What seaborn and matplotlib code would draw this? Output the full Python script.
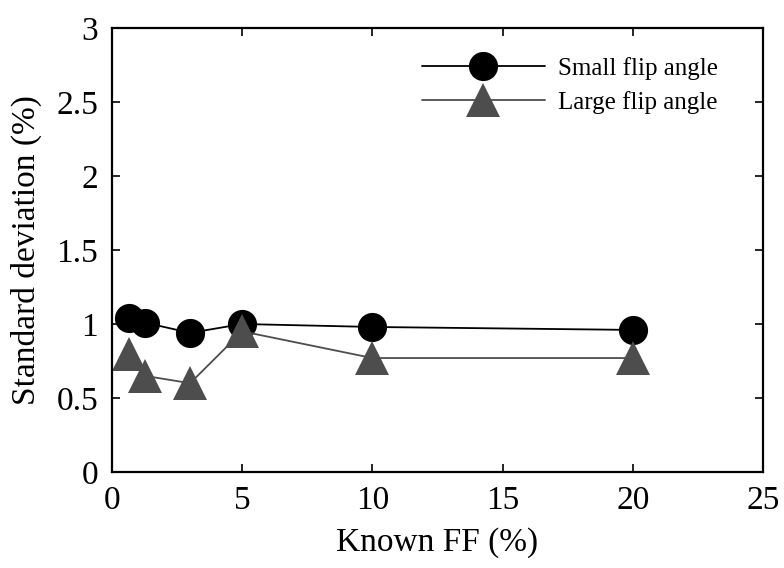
import numpy as np
import pandas as pd
import seaborn as sns
import matplotlib.pyplot as plt

known_ff = [0.65, 1.25, 3.0, 5, 10, 20]
small_flip = [1.04, 1.01, 0.94, 1.00, 0.98, 0.96]
large_flip = [0.80, 0.65, 0.60, 0.95, 0.77, 0.77]
series_names = ["Small flip angle", "Large flip angle"]
x_ticks = [0, 5, 10, 15, 20, 25]
y_ticks = [0, 0.5, 1, 1.5, 2, 2.5, 3]

df = pd.DataFrame({
    "FF": known_ff + known_ff,
    "SD": small_flip + large_flip,
    "Series": [series_names[0]] * len(known_ff) + [series_names[1]] * len(known_ff),
})

sns.set_style("ticks")
plt.rcParams['font.family'] = ['Liberation Serif', 'DejaVu Serif']
plt.rcParams['text.color'] = 'black'
plt.rcParams['axes.labelcolor'] = 'black'
plt.rcParams['xtick.color'] = 'black'
plt.rcParams['ytick.color'] = 'black'

fig = plt.figure(figsize=(7.84, 5.68), dpi=100)
ax = fig.add_axes([112 / 784, 1 - 472 / 568, (763 - 112) / 784, 444 / 568])

palette = {series_names[0]: "black", series_names[1]: "#4d4d4d"}
markers = {series_names[0]: "o", series_names[1]: "^"}
sns.lineplot(data=df, x="FF", y="SD", hue="Series", style="Series",
             palette=palette, markers=markers, dashes=False, sort=False,
             markersize=21, markeredgewidth=0, linewidth=1.3, ax=ax,
             legend=True)

for line in ax.lines:
    if line.get_marker() == "^":
        line.set_markersize(24)
    elif line.get_marker() == "o":
        line.set_markersize(21)

ax.set_xlim(0, 25)
ax.set_ylim(0, 3)
ax.set_xticks(x_ticks)
ax.set_xticklabels([str(t) for t in x_ticks])
ax.set_yticks(y_ticks)
ax.set_yticklabels([f"{t:g}" for t in y_ticks])
ax.tick_params(direction='in', top=True, right=True, length=6, width=1.2,
               labelsize=24, color='black', labelcolor='black')
ax.tick_params(axis='x', pad=10)
ax.tick_params(axis='y', pad=10)
for s in ax.spines.values():
    s.set_linewidth(1.6)
    s.set_color('black')

ax.set_xlabel("Known FF (%)", fontsize=24, labelpad=8, color='black')
ax.set_ylabel("Standard deviation (%)", fontsize=24, labelpad=10, color='black')

handles, labels = ax.get_legend_handles_labels()
leg = ax.legend(handles, labels, loc='upper left',
                bbox_to_anchor=(422 / 784, 1 - 57 / 568),
                bbox_transform=fig.transFigure, frameon=False,
                fontsize=18, handlelength=4.9, handletextpad=0.55,
                labelspacing=0.45, borderpad=0, borderaxespad=0)
for h in leg.legend_handles:
    if h.get_marker() == "^":
        h.set_markersize(24)
    elif h.get_marker() == "o":
        h.set_markersize(21)
for t in leg.get_texts():
    t.set_color('black')

fig.savefig("out.png", dpi=100)
